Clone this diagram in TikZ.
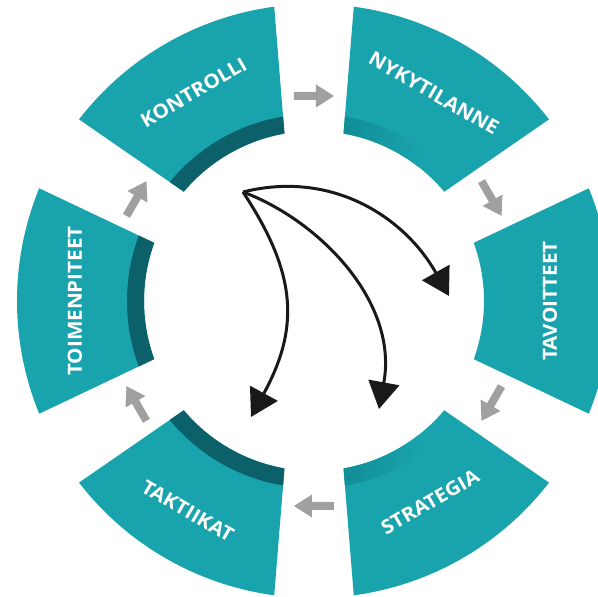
\documentclass[tikz,border=0pt]{standalone}
\usepackage{fontspec}
\newfontfamily\segfont{Open Sans}[FakeStretch=1.06]
\usetikzlibrary{arrows.meta}

\definecolor{ringteal}{HTML}{19A3AD}
\definecolor{ringdark}{HTML}{0C6069}
\definecolor{ringmid}{HTML}{12909A}
\definecolor{flowgrey}{HTML}{A0A0A0}

% one ring segment centred on angle #1: outer radius 297, inner radius 170
\newcommand\segpath[1]{(#1-22.3:297) arc[start angle=#1-22.3, end angle=#1+22.3, radius=297]
  -- (#1+20:170) arc[start angle=#1+20, end angle=#1-20, radius=170] -- cycle}

% grey block arrow between two segments, at angle #1, pointing clockwise
\newcommand\flowarrow[1]{%
  \begin{scope}[shift={(#1:205)}, rotate=#1-90]
    \fill[flowgrey] (-20,-4) -- (2,-4) -- (2,-11.5) -- (20,0) -- (2,11.5) -- (2,4) -- (-20,4) -- cycle;
  \end{scope}}

\tikzset{
  seglabel/.style={text=white, font=\segfont\bfseries\fontsize{19.5}{22}\selectfont, inner sep=0pt},
  jump/.style={line width=3pt, draw=black!90, -{Triangle[length=27pt,width=31pt]}},
}

\begin{document}
\begin{tikzpicture}[x=1pt,y=1pt]
  \useasboundingbox (-314,-296) rectangle (284,301);
  \clip (-314,-296) rectangle (284,301);

  % ring segments
  \foreach \c in {120,60,0,-60,-120,180} {
    \fill[ringteal] \segpath{\c};
  }

  % dark inner wall on the far side of the ring
  \foreach \c in {120,180,-120} {
    \begin{scope}
      \clip \segpath{\c};
      \fill[ringdark] (0,0) circle (187);
    \end{scope}
  }

  % faint inner wall, fading towards the right
  \foreach \c in {60,-60} {
    \begin{scope}
      \clip \segpath{\c};
      \clip (0,0) circle (187);
      \fill[ringmid] (0,-300) rectangle (40,300);
      \shade[left color=ringmid, right color=ringteal] (40,-300) rectangle (105,300);
    \end{scope}
  }

  % segment labels
  \node[seglabel, rotate=30]  (kontrolli)    at (120:241) {KONTROLLI};
  \node[seglabel, rotate=-30] (nykytilanne)  at (60:240)  {NYKYTILANNE};
  \node[seglabel, rotate=90]  (tavoitteet)   at (0:236)   {TAVOITTEET};
  \node[seglabel, rotate=30]  (strategia)    at (-60:232) {STRATEGIA};
  \node[seglabel, rotate=-30] (taktiikat)    at (-121:245) {TAKTIIKAT};
  \node[seglabel, rotate=90]  (toimenpiteet) at (180:239) {TOIMENPITEET};

  % cycle arrows between the segments
  \foreach \a in {90,30,-30,-90,-150,150} {
    \flowarrow{\a}
  }

  % shortcut arrows across the middle
  \coordinate (src) at (-71,109);
  \coordinate (tipA) at (135,5);
  \coordinate (tipB) at (65,-108);
  \coordinate (tipC) at (-63,-116);
  \draw[jump] (src) .. controls (19,131.5) and (91,83) .. (tipA);
  \draw[jump] (src) .. controls (4.2,81) and (84.8,-0.2) .. (tipB);
  \draw[jump] (src) .. controls (-16,26) and (-15,-28) .. (tipC);
\end{tikzpicture}
\end{document}
